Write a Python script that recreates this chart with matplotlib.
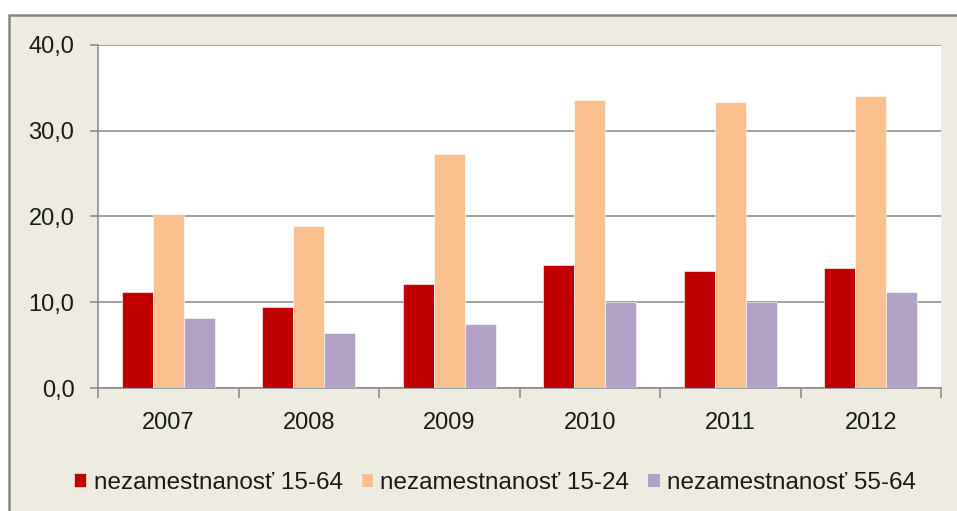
import matplotlib.pyplot as plt
import matplotlib.patches as mpatches
import numpy as np

years = ['2007', '2008', '2009', '2010', '2011', '2012']
labels = ['nezamestnanosť 15-64', 'nezamestnanosť 15-24', 'nezamestnanosť 55-64']
u_15_64 = [11.2, 9.4, 12.1, 14.3, 13.6, 14.0]
u_15_24 = [20.3, 18.9, 27.3, 33.6, 33.4, 34.0]
u_55_64 = [8.2, 6.4, 7.5, 10.0, 10.0, 11.2]
colors = ['#C00000', '#FAC090', '#B3A2C7']

plt.rcParams['font.family'] = ['Liberation Sans', 'DejaVu Sans']

grid_col = '#868686'
txt_col = '#1a1a1a'

fig = plt.figure(figsize=(9.57, 5.11), dpi=100, facecolor='white')
# beige chart area with grey border (only top/left visible)
bg = mpatches.Rectangle((9/957, -0.2), 1.2, 1 - 15/511 + 0.2, transform=fig.transFigure,
                        facecolor='#EEECE1', edgecolor=grid_col, linewidth=1.8, zorder=-10)
fig.patches.append(bg)

ax = fig.add_axes([98/957, 1 - 388/511, (941 - 98)/957, (388 - 45)/511])
ax.set_facecolor('white')

x = np.arange(len(years))
w = 0.22
for i, (vals, col, lab) in enumerate(zip([u_15_64, u_15_24, u_55_64], colors, labels)):
    ax.bar(x + (i - 1)*w, vals, width=w, color=col, label=lab, zorder=3,
           edgecolor='white', linewidth=0.4)

ax.set_xlim(-0.5, len(years) - 0.5)
ax.set_ylim(0, 40)
ax.set_yticks([0, 10, 20, 30, 40])
ax.set_yticklabels(['0,0', '10,0', '20,0', '30,0', '40,0'])
ax.yaxis.grid(True, color=grid_col, linewidth=1.1, zorder=1)
ax.set_axisbelow(True)

# x ticks on category boundaries, labels centered
ax.set_xticks(np.arange(-0.5, len(years)), minor=False)
ax.set_xticklabels([''] * (len(years) + 1))
ax.set_xticks(x, minor=True)
ax.set_xticklabels(years, minor=True)
ax.tick_params(axis='x', which='major', length=7, width=1.1, color=grid_col, direction='out')
ax.tick_params(axis='x', which='minor', length=0, pad=17, labelsize=17, labelcolor=txt_col)
ax.tick_params(axis='y', length=6, width=1.1, color=grid_col, direction='out', pad=11,
               labelsize=17, labelcolor=txt_col)

for s in ['top', 'right']:
    ax.spines[s].set_visible(False)
for s in ['left', 'bottom']:
    ax.spines[s].set_color(grid_col)
    ax.spines[s].set_linewidth(1.1)

fig.legend(loc='center', bbox_to_anchor=(495/957, 1 - 483/511), ncol=3, frameon=False,
           fontsize=17.5, handlelength=0.5, handleheight=0.5, handletextpad=0.3,
           columnspacing=0.75, labelcolor=txt_col)

fig.savefig('out.png', dpi=100)
